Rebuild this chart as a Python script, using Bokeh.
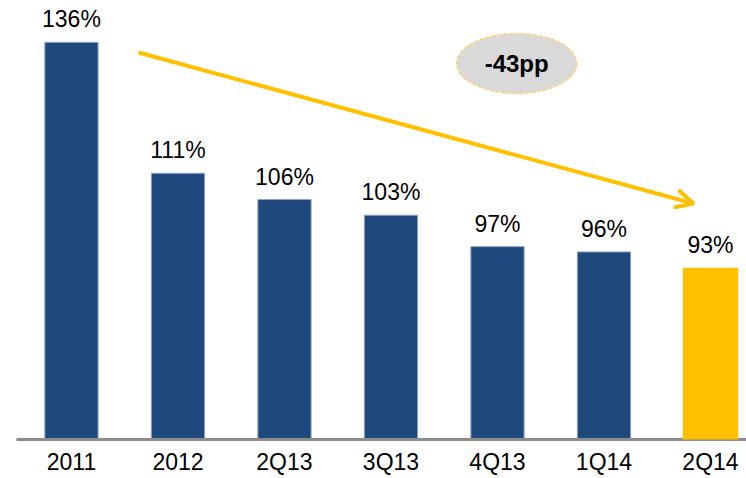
from bokeh.plotting import figure
from bokeh.models import Range1d, FixedTicker, Arrow, OpenHead, ColumnDataSource, LabelSet, Label
from bokeh.core.properties import value
from bokeh.embed import file_html
from bokeh.resources import INLINE

categories = ["2011", "2012", "2Q13", "3Q13", "4Q13", "1Q14", "2Q14"]
values = [136, 111, 106, 103, 97, 96, 93]
labels = ["136%", "111%", "106%", "103%", "97%", "96%", "93%"]
colors = ["#1F497D"] * 6 + ["#FFC000"]
badge_text = "-43pp"

BASE = 60.2
xs = list(range(len(categories)))

p = figure(width=746, height=478, output_backend="svg", toolbar_location=None,
           x_range=Range1d(-0.516, 6.338), y_range=Range1d(BASE, 143.98),
           min_border_left=16, min_border_right=0, min_border_top=0, min_border_bottom=39)
p.outline_line_color = None
p.grid.visible = False
p.yaxis.visible = False

src = ColumnDataSource(dict(x=xs[:-1], top=values[:-1], color=colors[:-1]))
p.vbar(x="x", top="top", bottom=BASE, width=0.5, fill_color="color",
       line_color="#8EA5C2", line_width=1, source=src)
src2 = ColumnDataSource(dict(x=xs[-1:], top=values[-1:], color=colors[-1:]))
r2 = p.vbar(x="x", top="top", bottom=BASE - 0.8, width=0.52, fill_color="color",
            line_color=None, source=src2)
r2.level = "annotation"

lsrc = ColumnDataSource(dict(x=xs, y=values, t=labels))
p.add_layout(LabelSet(x="x", y="y", text="t", source=lsrc, y_offset=15,
                      text_align="center", text_baseline="alphabetic",
                      text_font=value("Liberation Sans"), text_font_size=value("23px"),
                      text_color="#000000"))

ax = p.xaxis[0]
ax.ticker = FixedTicker(ticks=xs)
ax.major_label_overrides = {i: c for i, c in enumerate(categories)}
ax.major_tick_out = 0
ax.major_tick_in = 0
ax.minor_tick_out = 0
ax.minor_tick_in = 0
ax.major_label_standoff = 9
ax.major_label_text_font = "Liberation Sans"
ax.major_label_text_font_size = "23px"
ax.major_label_text_color = "#000000"
ax.axis_line_color = "#8C8C8C"
ax.axis_line_width = 3

# trend arrow
p.add_layout(Arrow(end=OpenHead(line_color="#FFC000", line_width=4, size=18),
                   x_start=0.63, y_start=134.05, x_end=5.84, y_end=105.24,
                   line_color="#FFC000", line_width=4))

# badge
p.ellipse(x=[4.18], y=[131.96], width=120, height=60, width_units="screen",
          height_units="screen", fill_color="#D9D9D9", line_color="#FFD27A",
          line_width=1.5, line_dash="4 2")
p.add_layout(Label(x=4.18, y=131.96, text=badge_text, text_align="center",
                   text_baseline="middle", text_font="Liberation Sans",
                   text_font_style="bold", text_font_size="24px", text_color="#000000"))

open("out.html", "w").write(file_html(p, INLINE))
